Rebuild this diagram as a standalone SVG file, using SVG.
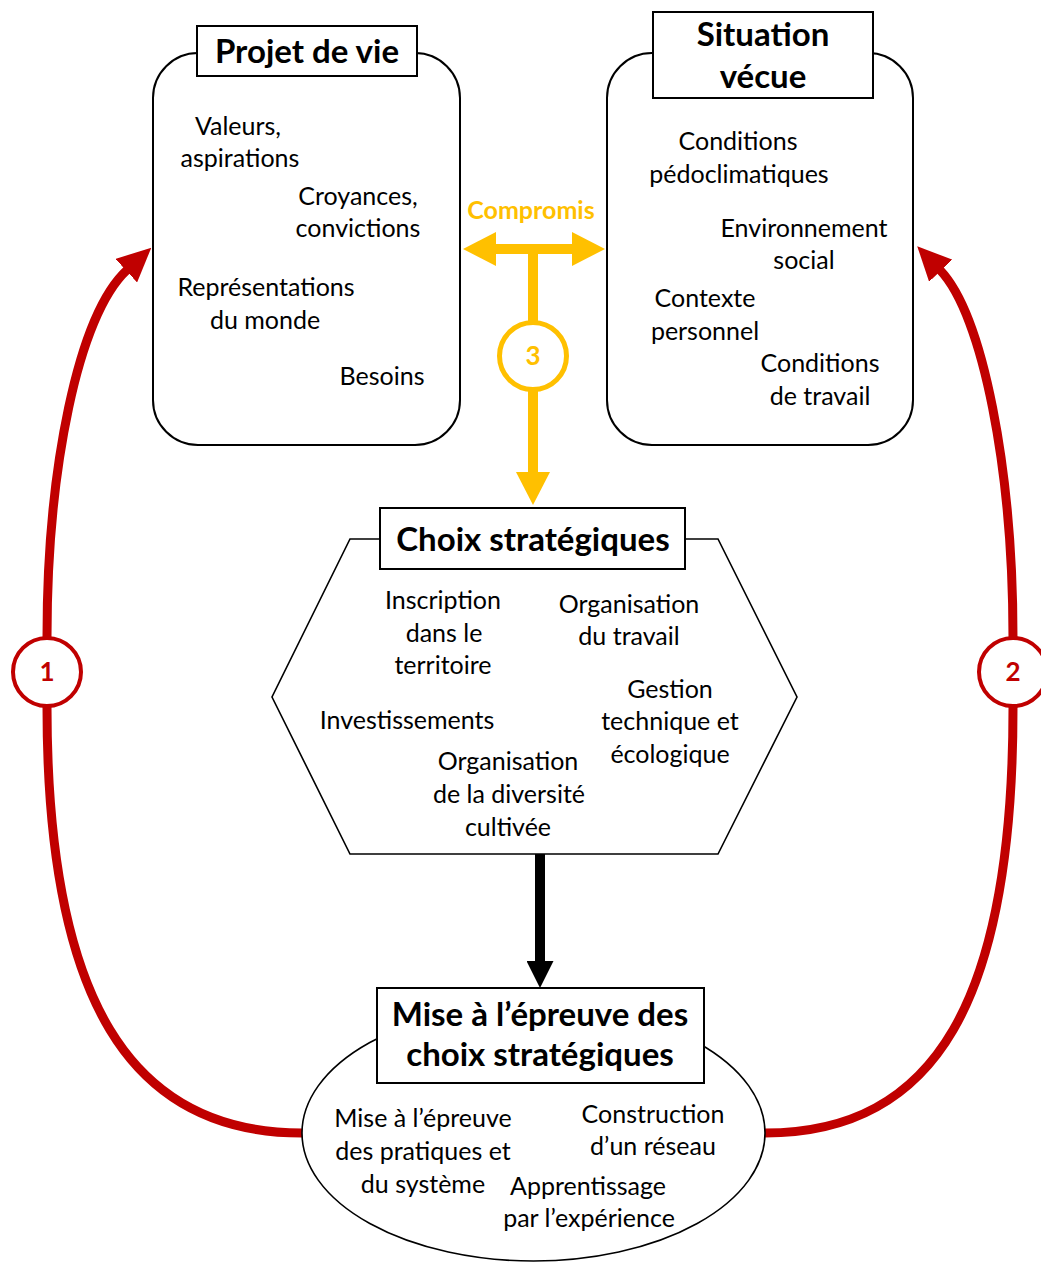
<svg xmlns="http://www.w3.org/2000/svg" width="1041" height="1262" viewBox="0 0 1041 1262">
<style>
.box{fill:#fff;stroke:#000;stroke-width:2}
.shape{fill:#fff;stroke:#000;stroke-width:1.6}
.t{font-family:Lato,"Open Sans",sans-serif;font-size:25px;fill:#000;text-anchor:middle}
.h{font-family:Lato,"Open Sans",sans-serif;font-size:33px;font-weight:bold;fill:#000;text-anchor:middle}
.red{fill:none;stroke:#C00000;stroke-width:9}
.yel{fill:none;stroke:#FFC000;stroke-width:10}
.blk{fill:none;stroke:#000;stroke-width:10}
.rc{fill:#fff;stroke:#C00000;stroke-width:4}
.yc{fill:#fff;stroke:#FFC000;stroke-width:5}
.rn{font-family:Lato,"Open Sans",sans-serif;font-size:26px;font-weight:bold;fill:#C00000;text-anchor:middle}
.yn{font-family:Lato,"Open Sans",sans-serif;font-size:26px;font-weight:bold;fill:#FFC000;text-anchor:middle}
</style>
<defs>
<marker id="ahR" markerUnits="userSpaceOnUse" markerWidth="34" markerHeight="32" viewBox="0 0 34 32" refX="1" refY="16" orient="auto"><path d="M0,0 L34,16 L0,32 z" fill="#C00000"/></marker>
<marker id="ahY" markerUnits="userSpaceOnUse" markerWidth="34" markerHeight="34" viewBox="0 0 34 34" refX="1" refY="17" orient="auto-start-reverse"><path d="M0,0 L33,17 L0,34 z" fill="#FFC000"/></marker>
<marker id="ahK" markerUnits="userSpaceOnUse" markerWidth="27" markerHeight="27" viewBox="0 0 27 27" refX="1" refY="13.5" orient="auto"><path d="M0,0 L27,13.5 L0,27 z" fill="#000"/></marker>
</defs>

<g id="connectors">
<path class="red" d="M302,1133 C130,1133 47,1000 47,707 L47,637 C47,470 78,315 127,270" marker-end="url(#ahR)"/>
<path class="red" d="M765,1133 C936,1133 1013,1000 1013,708 L1013,638 C1013,470 983,315 940,270" marker-end="url(#ahR)"/>
<path class="yel" d="M495,249 L573,249" marker-start="url(#ahY)" marker-end="url(#ahY)"/>
<path class="yel" d="M533,249 L533,473" marker-end="url(#ahY)"/>
<path class="blk" d="M540,854 L540,962" marker-end="url(#ahK)"/>
<text class="yn" x="531" y="219" style="font-size:25px">Compromis</text>
<g id="marker1"><circle class="rc" cx="47" cy="672" r="34"/><text class="rn" x="47" y="681">1</text></g>
<g id="marker2"><circle class="rc" cx="1013" cy="672" r="34"/><text class="rn" x="1013" y="681">2</text></g>
<g id="marker3"><circle class="yc" cx="533" cy="356" r="33.5"/><text class="yn" x="533" y="365">3</text></g>
</g>

<g id="projet">
<rect class="box" x="153" y="53" width="307" height="392" rx="45"/>
<rect class="box" x="197" y="26" width="220" height="50"/>
<text class="h" x="307" y="63">Projet de vie</text>
<text class="t" x="238" y="135">Valeurs,</text>
<text class="t" x="240" y="167">aspirations</text>
<text class="t" x="358" y="205">Croyances,</text>
<text class="t" x="358" y="237">convictions</text>
<text class="t" x="266" y="296">Représentations</text>
<text class="t" x="265" y="329">du monde</text>
<text class="t" x="382" y="385">Besoins</text>
</g>

<g id="situation">
<rect class="box" x="607" y="53" width="306" height="392" rx="45"/>
<rect class="box" x="653" y="12" width="220" height="86"/>
<text class="h" x="763" y="46">Situation</text>
<text class="h" x="763" y="88">vécue</text>
<text class="t" x="738" y="150">Conditions</text>
<text class="t" x="739" y="183">pédoclimatiques</text>
<text class="t" x="804" y="237">Environnement</text>
<text class="t" x="804" y="269">social</text>
<text class="t" x="705" y="307">Contexte</text>
<text class="t" x="705" y="340">personnel</text>
<text class="t" x="820" y="372">Conditions</text>
<text class="t" x="820" y="405">de travail</text>
</g>

<g id="choix">
<polygon class="shape" points="350,539 718,539 797,697 718,854 350,854 272,697"/>
<rect class="box" x="380" y="508" width="305" height="61"/>
<text class="h" x="533" y="551">Choix stratégiques</text>
<text class="t" x="443" y="609">Inscription</text>
<text class="t" x="444" y="642">dans le</text>
<text class="t" x="443" y="674">territoire</text>
<text class="t" x="629" y="613">Organisation</text>
<text class="t" x="629" y="645">du travail</text>
<text class="t" x="670" y="698">Gestion</text>
<text class="t" x="670" y="730">technique et</text>
<text class="t" x="670" y="763">écologique</text>
<text class="t" x="407" y="729">Investissements</text>
<text class="t" x="508" y="770">Organisation</text>
<text class="t" x="509" y="803">de la diversité</text>
<text class="t" x="508" y="836">cultivée</text>
</g>

<g id="epreuve">
<ellipse class="shape" cx="533.5" cy="1133" rx="231.5" ry="128"/>
<rect class="box" x="377" y="988" width="327" height="95"/>
<text class="h" x="540" y="1026">Mise à l’épreuve des</text>
<text class="h" x="540" y="1066">choix stratégiques</text>
<text class="t" x="423" y="1127">Mise à l’épreuve</text>
<text class="t" x="423" y="1160">des pratiques et</text>
<text class="t" x="423" y="1193">du système</text>
<text class="t" x="653" y="1123">Construction</text>
<text class="t" x="653" y="1155">d’un réseau</text>
<text class="t" x="588" y="1195">Apprentissage</text>
<text class="t" x="589" y="1227">par l’expérience</text>
</g>
</svg>
